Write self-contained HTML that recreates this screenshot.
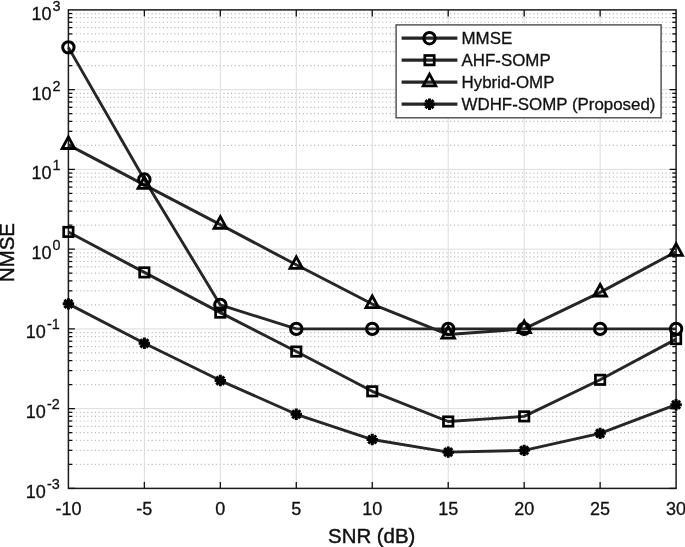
<!DOCTYPE html><html><head><meta charset="utf-8"><style>html,body{margin:0;padding:0;background:#fff}body{width:685px;height:547px;overflow:hidden}</style></head><body><svg width="685" height="547" viewBox="0 0 685 547" style="display:block;font-family:'Liberation Sans',sans-serif;will-change:transform;opacity:0.999">
<rect width="685" height="547" fill="#fff"/>
<line x1="68.4" x2="676.1" y1="464.39" y2="464.39" stroke="#bcbcbc" stroke-width="1.15" stroke-dasharray="1.15 2.63"/>
<line x1="68.4" x2="676.1" y1="450.35" y2="450.35" stroke="#bcbcbc" stroke-width="1.15" stroke-dasharray="1.15 2.63"/>
<line x1="68.4" x2="676.1" y1="440.39" y2="440.39" stroke="#bcbcbc" stroke-width="1.15" stroke-dasharray="1.15 2.63"/>
<line x1="68.4" x2="676.1" y1="432.66" y2="432.66" stroke="#bcbcbc" stroke-width="1.15" stroke-dasharray="1.15 2.63"/>
<line x1="68.4" x2="676.1" y1="426.34" y2="426.34" stroke="#bcbcbc" stroke-width="1.15" stroke-dasharray="1.15 2.63"/>
<line x1="68.4" x2="676.1" y1="421.00" y2="421.00" stroke="#bcbcbc" stroke-width="1.15" stroke-dasharray="1.15 2.63"/>
<line x1="68.4" x2="676.1" y1="416.38" y2="416.38" stroke="#bcbcbc" stroke-width="1.15" stroke-dasharray="1.15 2.63"/>
<line x1="68.4" x2="676.1" y1="412.30" y2="412.30" stroke="#bcbcbc" stroke-width="1.15" stroke-dasharray="1.15 2.63"/>
<line x1="68.4" x2="676.1" y1="384.64" y2="384.64" stroke="#bcbcbc" stroke-width="1.15" stroke-dasharray="1.15 2.63"/>
<line x1="68.4" x2="676.1" y1="370.60" y2="370.60" stroke="#bcbcbc" stroke-width="1.15" stroke-dasharray="1.15 2.63"/>
<line x1="68.4" x2="676.1" y1="360.64" y2="360.64" stroke="#bcbcbc" stroke-width="1.15" stroke-dasharray="1.15 2.63"/>
<line x1="68.4" x2="676.1" y1="352.91" y2="352.91" stroke="#bcbcbc" stroke-width="1.15" stroke-dasharray="1.15 2.63"/>
<line x1="68.4" x2="676.1" y1="346.59" y2="346.59" stroke="#bcbcbc" stroke-width="1.15" stroke-dasharray="1.15 2.63"/>
<line x1="68.4" x2="676.1" y1="341.25" y2="341.25" stroke="#bcbcbc" stroke-width="1.15" stroke-dasharray="1.15 2.63"/>
<line x1="68.4" x2="676.1" y1="336.63" y2="336.63" stroke="#bcbcbc" stroke-width="1.15" stroke-dasharray="1.15 2.63"/>
<line x1="68.4" x2="676.1" y1="332.55" y2="332.55" stroke="#bcbcbc" stroke-width="1.15" stroke-dasharray="1.15 2.63"/>
<line x1="68.4" x2="676.1" y1="304.89" y2="304.89" stroke="#bcbcbc" stroke-width="1.15" stroke-dasharray="1.15 2.63"/>
<line x1="68.4" x2="676.1" y1="290.85" y2="290.85" stroke="#bcbcbc" stroke-width="1.15" stroke-dasharray="1.15 2.63"/>
<line x1="68.4" x2="676.1" y1="280.89" y2="280.89" stroke="#bcbcbc" stroke-width="1.15" stroke-dasharray="1.15 2.63"/>
<line x1="68.4" x2="676.1" y1="273.16" y2="273.16" stroke="#bcbcbc" stroke-width="1.15" stroke-dasharray="1.15 2.63"/>
<line x1="68.4" x2="676.1" y1="266.84" y2="266.84" stroke="#bcbcbc" stroke-width="1.15" stroke-dasharray="1.15 2.63"/>
<line x1="68.4" x2="676.1" y1="261.50" y2="261.50" stroke="#bcbcbc" stroke-width="1.15" stroke-dasharray="1.15 2.63"/>
<line x1="68.4" x2="676.1" y1="256.88" y2="256.88" stroke="#bcbcbc" stroke-width="1.15" stroke-dasharray="1.15 2.63"/>
<line x1="68.4" x2="676.1" y1="252.80" y2="252.80" stroke="#bcbcbc" stroke-width="1.15" stroke-dasharray="1.15 2.63"/>
<line x1="68.4" x2="676.1" y1="225.14" y2="225.14" stroke="#bcbcbc" stroke-width="1.15" stroke-dasharray="1.15 2.63"/>
<line x1="68.4" x2="676.1" y1="211.10" y2="211.10" stroke="#bcbcbc" stroke-width="1.15" stroke-dasharray="1.15 2.63"/>
<line x1="68.4" x2="676.1" y1="201.14" y2="201.14" stroke="#bcbcbc" stroke-width="1.15" stroke-dasharray="1.15 2.63"/>
<line x1="68.4" x2="676.1" y1="193.41" y2="193.41" stroke="#bcbcbc" stroke-width="1.15" stroke-dasharray="1.15 2.63"/>
<line x1="68.4" x2="676.1" y1="187.09" y2="187.09" stroke="#bcbcbc" stroke-width="1.15" stroke-dasharray="1.15 2.63"/>
<line x1="68.4" x2="676.1" y1="181.75" y2="181.75" stroke="#bcbcbc" stroke-width="1.15" stroke-dasharray="1.15 2.63"/>
<line x1="68.4" x2="676.1" y1="177.13" y2="177.13" stroke="#bcbcbc" stroke-width="1.15" stroke-dasharray="1.15 2.63"/>
<line x1="68.4" x2="676.1" y1="173.05" y2="173.05" stroke="#bcbcbc" stroke-width="1.15" stroke-dasharray="1.15 2.63"/>
<line x1="68.4" x2="676.1" y1="145.39" y2="145.39" stroke="#bcbcbc" stroke-width="1.15" stroke-dasharray="1.15 2.63"/>
<line x1="68.4" x2="676.1" y1="131.35" y2="131.35" stroke="#bcbcbc" stroke-width="1.15" stroke-dasharray="1.15 2.63"/>
<line x1="68.4" x2="676.1" y1="121.39" y2="121.39" stroke="#bcbcbc" stroke-width="1.15" stroke-dasharray="1.15 2.63"/>
<line x1="68.4" x2="676.1" y1="113.66" y2="113.66" stroke="#bcbcbc" stroke-width="1.15" stroke-dasharray="1.15 2.63"/>
<line x1="68.4" x2="676.1" y1="107.34" y2="107.34" stroke="#bcbcbc" stroke-width="1.15" stroke-dasharray="1.15 2.63"/>
<line x1="68.4" x2="676.1" y1="102.00" y2="102.00" stroke="#bcbcbc" stroke-width="1.15" stroke-dasharray="1.15 2.63"/>
<line x1="68.4" x2="676.1" y1="97.38" y2="97.38" stroke="#bcbcbc" stroke-width="1.15" stroke-dasharray="1.15 2.63"/>
<line x1="68.4" x2="676.1" y1="93.30" y2="93.30" stroke="#bcbcbc" stroke-width="1.15" stroke-dasharray="1.15 2.63"/>
<line x1="68.4" x2="676.1" y1="65.64" y2="65.64" stroke="#bcbcbc" stroke-width="1.15" stroke-dasharray="1.15 2.63"/>
<line x1="68.4" x2="676.1" y1="51.60" y2="51.60" stroke="#bcbcbc" stroke-width="1.15" stroke-dasharray="1.15 2.63"/>
<line x1="68.4" x2="676.1" y1="41.64" y2="41.64" stroke="#bcbcbc" stroke-width="1.15" stroke-dasharray="1.15 2.63"/>
<line x1="68.4" x2="676.1" y1="33.91" y2="33.91" stroke="#bcbcbc" stroke-width="1.15" stroke-dasharray="1.15 2.63"/>
<line x1="68.4" x2="676.1" y1="27.59" y2="27.59" stroke="#bcbcbc" stroke-width="1.15" stroke-dasharray="1.15 2.63"/>
<line x1="68.4" x2="676.1" y1="22.25" y2="22.25" stroke="#bcbcbc" stroke-width="1.15" stroke-dasharray="1.15 2.63"/>
<line x1="68.4" x2="676.1" y1="17.63" y2="17.63" stroke="#bcbcbc" stroke-width="1.15" stroke-dasharray="1.15 2.63"/>
<line x1="68.4" x2="676.1" y1="13.55" y2="13.55" stroke="#bcbcbc" stroke-width="1.15" stroke-dasharray="1.15 2.63"/>
<line x1="144.36" x2="144.36" y1="9.9" y2="488.4" stroke="#dcdcdc" stroke-width="1"/>
<line x1="220.33" x2="220.33" y1="9.9" y2="488.4" stroke="#dcdcdc" stroke-width="1"/>
<line x1="296.29" x2="296.29" y1="9.9" y2="488.4" stroke="#dcdcdc" stroke-width="1"/>
<line x1="372.25" x2="372.25" y1="9.9" y2="488.4" stroke="#dcdcdc" stroke-width="1"/>
<line x1="448.21" x2="448.21" y1="9.9" y2="488.4" stroke="#dcdcdc" stroke-width="1"/>
<line x1="524.18" x2="524.18" y1="9.9" y2="488.4" stroke="#dcdcdc" stroke-width="1"/>
<line x1="600.14" x2="600.14" y1="9.9" y2="488.4" stroke="#dcdcdc" stroke-width="1"/>
<line x1="68.4" x2="676.1" y1="408.65" y2="408.65" stroke="#dcdcdc" stroke-width="1"/>
<line x1="68.4" x2="676.1" y1="328.90" y2="328.90" stroke="#dcdcdc" stroke-width="1"/>
<line x1="68.4" x2="676.1" y1="249.15" y2="249.15" stroke="#dcdcdc" stroke-width="1"/>
<line x1="68.4" x2="676.1" y1="169.40" y2="169.40" stroke="#dcdcdc" stroke-width="1"/>
<line x1="68.4" x2="676.1" y1="89.65" y2="89.65" stroke="#dcdcdc" stroke-width="1"/>
<rect x="68.4" y="9.9" width="607.7" height="478.5" fill="none" stroke="#1c1c1c" stroke-width="1.5"/>
<line x1="144.36" x2="144.36" y1="488.4" y2="481.9" stroke="#111" stroke-width="1.3"/>
<line x1="144.36" x2="144.36" y1="9.9" y2="16.4" stroke="#111" stroke-width="1.3"/>
<line x1="220.33" x2="220.33" y1="488.4" y2="481.9" stroke="#111" stroke-width="1.3"/>
<line x1="220.33" x2="220.33" y1="9.9" y2="16.4" stroke="#111" stroke-width="1.3"/>
<line x1="296.29" x2="296.29" y1="488.4" y2="481.9" stroke="#111" stroke-width="1.3"/>
<line x1="296.29" x2="296.29" y1="9.9" y2="16.4" stroke="#111" stroke-width="1.3"/>
<line x1="372.25" x2="372.25" y1="488.4" y2="481.9" stroke="#111" stroke-width="1.3"/>
<line x1="372.25" x2="372.25" y1="9.9" y2="16.4" stroke="#111" stroke-width="1.3"/>
<line x1="448.21" x2="448.21" y1="488.4" y2="481.9" stroke="#111" stroke-width="1.3"/>
<line x1="448.21" x2="448.21" y1="9.9" y2="16.4" stroke="#111" stroke-width="1.3"/>
<line x1="524.18" x2="524.18" y1="488.4" y2="481.9" stroke="#111" stroke-width="1.3"/>
<line x1="524.18" x2="524.18" y1="9.9" y2="16.4" stroke="#111" stroke-width="1.3"/>
<line x1="600.14" x2="600.14" y1="488.4" y2="481.9" stroke="#111" stroke-width="1.3"/>
<line x1="600.14" x2="600.14" y1="9.9" y2="16.4" stroke="#111" stroke-width="1.3"/>
<line x1="68.4" x2="74.9" y1="488.40" y2="488.40" stroke="#111" stroke-width="1.3"/>
<line x1="676.1" x2="669.6" y1="488.40" y2="488.40" stroke="#111" stroke-width="1.3"/>
<line x1="68.4" x2="72.2" y1="464.39" y2="464.39" stroke="#111" stroke-width="1.3"/>
<line x1="676.1" x2="672.3000000000001" y1="464.39" y2="464.39" stroke="#111" stroke-width="1.3"/>
<line x1="68.4" x2="72.2" y1="450.35" y2="450.35" stroke="#111" stroke-width="1.3"/>
<line x1="676.1" x2="672.3000000000001" y1="450.35" y2="450.35" stroke="#111" stroke-width="1.3"/>
<line x1="68.4" x2="72.2" y1="440.39" y2="440.39" stroke="#111" stroke-width="1.3"/>
<line x1="676.1" x2="672.3000000000001" y1="440.39" y2="440.39" stroke="#111" stroke-width="1.3"/>
<line x1="68.4" x2="72.2" y1="432.66" y2="432.66" stroke="#111" stroke-width="1.3"/>
<line x1="676.1" x2="672.3000000000001" y1="432.66" y2="432.66" stroke="#111" stroke-width="1.3"/>
<line x1="68.4" x2="72.2" y1="426.34" y2="426.34" stroke="#111" stroke-width="1.3"/>
<line x1="676.1" x2="672.3000000000001" y1="426.34" y2="426.34" stroke="#111" stroke-width="1.3"/>
<line x1="68.4" x2="72.2" y1="421.00" y2="421.00" stroke="#111" stroke-width="1.3"/>
<line x1="676.1" x2="672.3000000000001" y1="421.00" y2="421.00" stroke="#111" stroke-width="1.3"/>
<line x1="68.4" x2="72.2" y1="416.38" y2="416.38" stroke="#111" stroke-width="1.3"/>
<line x1="676.1" x2="672.3000000000001" y1="416.38" y2="416.38" stroke="#111" stroke-width="1.3"/>
<line x1="68.4" x2="72.2" y1="412.30" y2="412.30" stroke="#111" stroke-width="1.3"/>
<line x1="676.1" x2="672.3000000000001" y1="412.30" y2="412.30" stroke="#111" stroke-width="1.3"/>
<line x1="68.4" x2="74.9" y1="408.65" y2="408.65" stroke="#111" stroke-width="1.3"/>
<line x1="676.1" x2="669.6" y1="408.65" y2="408.65" stroke="#111" stroke-width="1.3"/>
<line x1="68.4" x2="72.2" y1="384.64" y2="384.64" stroke="#111" stroke-width="1.3"/>
<line x1="676.1" x2="672.3000000000001" y1="384.64" y2="384.64" stroke="#111" stroke-width="1.3"/>
<line x1="68.4" x2="72.2" y1="370.60" y2="370.60" stroke="#111" stroke-width="1.3"/>
<line x1="676.1" x2="672.3000000000001" y1="370.60" y2="370.60" stroke="#111" stroke-width="1.3"/>
<line x1="68.4" x2="72.2" y1="360.64" y2="360.64" stroke="#111" stroke-width="1.3"/>
<line x1="676.1" x2="672.3000000000001" y1="360.64" y2="360.64" stroke="#111" stroke-width="1.3"/>
<line x1="68.4" x2="72.2" y1="352.91" y2="352.91" stroke="#111" stroke-width="1.3"/>
<line x1="676.1" x2="672.3000000000001" y1="352.91" y2="352.91" stroke="#111" stroke-width="1.3"/>
<line x1="68.4" x2="72.2" y1="346.59" y2="346.59" stroke="#111" stroke-width="1.3"/>
<line x1="676.1" x2="672.3000000000001" y1="346.59" y2="346.59" stroke="#111" stroke-width="1.3"/>
<line x1="68.4" x2="72.2" y1="341.25" y2="341.25" stroke="#111" stroke-width="1.3"/>
<line x1="676.1" x2="672.3000000000001" y1="341.25" y2="341.25" stroke="#111" stroke-width="1.3"/>
<line x1="68.4" x2="72.2" y1="336.63" y2="336.63" stroke="#111" stroke-width="1.3"/>
<line x1="676.1" x2="672.3000000000001" y1="336.63" y2="336.63" stroke="#111" stroke-width="1.3"/>
<line x1="68.4" x2="72.2" y1="332.55" y2="332.55" stroke="#111" stroke-width="1.3"/>
<line x1="676.1" x2="672.3000000000001" y1="332.55" y2="332.55" stroke="#111" stroke-width="1.3"/>
<line x1="68.4" x2="74.9" y1="328.90" y2="328.90" stroke="#111" stroke-width="1.3"/>
<line x1="676.1" x2="669.6" y1="328.90" y2="328.90" stroke="#111" stroke-width="1.3"/>
<line x1="68.4" x2="72.2" y1="304.89" y2="304.89" stroke="#111" stroke-width="1.3"/>
<line x1="676.1" x2="672.3000000000001" y1="304.89" y2="304.89" stroke="#111" stroke-width="1.3"/>
<line x1="68.4" x2="72.2" y1="290.85" y2="290.85" stroke="#111" stroke-width="1.3"/>
<line x1="676.1" x2="672.3000000000001" y1="290.85" y2="290.85" stroke="#111" stroke-width="1.3"/>
<line x1="68.4" x2="72.2" y1="280.89" y2="280.89" stroke="#111" stroke-width="1.3"/>
<line x1="676.1" x2="672.3000000000001" y1="280.89" y2="280.89" stroke="#111" stroke-width="1.3"/>
<line x1="68.4" x2="72.2" y1="273.16" y2="273.16" stroke="#111" stroke-width="1.3"/>
<line x1="676.1" x2="672.3000000000001" y1="273.16" y2="273.16" stroke="#111" stroke-width="1.3"/>
<line x1="68.4" x2="72.2" y1="266.84" y2="266.84" stroke="#111" stroke-width="1.3"/>
<line x1="676.1" x2="672.3000000000001" y1="266.84" y2="266.84" stroke="#111" stroke-width="1.3"/>
<line x1="68.4" x2="72.2" y1="261.50" y2="261.50" stroke="#111" stroke-width="1.3"/>
<line x1="676.1" x2="672.3000000000001" y1="261.50" y2="261.50" stroke="#111" stroke-width="1.3"/>
<line x1="68.4" x2="72.2" y1="256.88" y2="256.88" stroke="#111" stroke-width="1.3"/>
<line x1="676.1" x2="672.3000000000001" y1="256.88" y2="256.88" stroke="#111" stroke-width="1.3"/>
<line x1="68.4" x2="72.2" y1="252.80" y2="252.80" stroke="#111" stroke-width="1.3"/>
<line x1="676.1" x2="672.3000000000001" y1="252.80" y2="252.80" stroke="#111" stroke-width="1.3"/>
<line x1="68.4" x2="74.9" y1="249.15" y2="249.15" stroke="#111" stroke-width="1.3"/>
<line x1="676.1" x2="669.6" y1="249.15" y2="249.15" stroke="#111" stroke-width="1.3"/>
<line x1="68.4" x2="72.2" y1="225.14" y2="225.14" stroke="#111" stroke-width="1.3"/>
<line x1="676.1" x2="672.3000000000001" y1="225.14" y2="225.14" stroke="#111" stroke-width="1.3"/>
<line x1="68.4" x2="72.2" y1="211.10" y2="211.10" stroke="#111" stroke-width="1.3"/>
<line x1="676.1" x2="672.3000000000001" y1="211.10" y2="211.10" stroke="#111" stroke-width="1.3"/>
<line x1="68.4" x2="72.2" y1="201.14" y2="201.14" stroke="#111" stroke-width="1.3"/>
<line x1="676.1" x2="672.3000000000001" y1="201.14" y2="201.14" stroke="#111" stroke-width="1.3"/>
<line x1="68.4" x2="72.2" y1="193.41" y2="193.41" stroke="#111" stroke-width="1.3"/>
<line x1="676.1" x2="672.3000000000001" y1="193.41" y2="193.41" stroke="#111" stroke-width="1.3"/>
<line x1="68.4" x2="72.2" y1="187.09" y2="187.09" stroke="#111" stroke-width="1.3"/>
<line x1="676.1" x2="672.3000000000001" y1="187.09" y2="187.09" stroke="#111" stroke-width="1.3"/>
<line x1="68.4" x2="72.2" y1="181.75" y2="181.75" stroke="#111" stroke-width="1.3"/>
<line x1="676.1" x2="672.3000000000001" y1="181.75" y2="181.75" stroke="#111" stroke-width="1.3"/>
<line x1="68.4" x2="72.2" y1="177.13" y2="177.13" stroke="#111" stroke-width="1.3"/>
<line x1="676.1" x2="672.3000000000001" y1="177.13" y2="177.13" stroke="#111" stroke-width="1.3"/>
<line x1="68.4" x2="72.2" y1="173.05" y2="173.05" stroke="#111" stroke-width="1.3"/>
<line x1="676.1" x2="672.3000000000001" y1="173.05" y2="173.05" stroke="#111" stroke-width="1.3"/>
<line x1="68.4" x2="74.9" y1="169.40" y2="169.40" stroke="#111" stroke-width="1.3"/>
<line x1="676.1" x2="669.6" y1="169.40" y2="169.40" stroke="#111" stroke-width="1.3"/>
<line x1="68.4" x2="72.2" y1="145.39" y2="145.39" stroke="#111" stroke-width="1.3"/>
<line x1="676.1" x2="672.3000000000001" y1="145.39" y2="145.39" stroke="#111" stroke-width="1.3"/>
<line x1="68.4" x2="72.2" y1="131.35" y2="131.35" stroke="#111" stroke-width="1.3"/>
<line x1="676.1" x2="672.3000000000001" y1="131.35" y2="131.35" stroke="#111" stroke-width="1.3"/>
<line x1="68.4" x2="72.2" y1="121.39" y2="121.39" stroke="#111" stroke-width="1.3"/>
<line x1="676.1" x2="672.3000000000001" y1="121.39" y2="121.39" stroke="#111" stroke-width="1.3"/>
<line x1="68.4" x2="72.2" y1="113.66" y2="113.66" stroke="#111" stroke-width="1.3"/>
<line x1="676.1" x2="672.3000000000001" y1="113.66" y2="113.66" stroke="#111" stroke-width="1.3"/>
<line x1="68.4" x2="72.2" y1="107.34" y2="107.34" stroke="#111" stroke-width="1.3"/>
<line x1="676.1" x2="672.3000000000001" y1="107.34" y2="107.34" stroke="#111" stroke-width="1.3"/>
<line x1="68.4" x2="72.2" y1="102.00" y2="102.00" stroke="#111" stroke-width="1.3"/>
<line x1="676.1" x2="672.3000000000001" y1="102.00" y2="102.00" stroke="#111" stroke-width="1.3"/>
<line x1="68.4" x2="72.2" y1="97.38" y2="97.38" stroke="#111" stroke-width="1.3"/>
<line x1="676.1" x2="672.3000000000001" y1="97.38" y2="97.38" stroke="#111" stroke-width="1.3"/>
<line x1="68.4" x2="72.2" y1="93.30" y2="93.30" stroke="#111" stroke-width="1.3"/>
<line x1="676.1" x2="672.3000000000001" y1="93.30" y2="93.30" stroke="#111" stroke-width="1.3"/>
<line x1="68.4" x2="74.9" y1="89.65" y2="89.65" stroke="#111" stroke-width="1.3"/>
<line x1="676.1" x2="669.6" y1="89.65" y2="89.65" stroke="#111" stroke-width="1.3"/>
<line x1="68.4" x2="72.2" y1="65.64" y2="65.64" stroke="#111" stroke-width="1.3"/>
<line x1="676.1" x2="672.3000000000001" y1="65.64" y2="65.64" stroke="#111" stroke-width="1.3"/>
<line x1="68.4" x2="72.2" y1="51.60" y2="51.60" stroke="#111" stroke-width="1.3"/>
<line x1="676.1" x2="672.3000000000001" y1="51.60" y2="51.60" stroke="#111" stroke-width="1.3"/>
<line x1="68.4" x2="72.2" y1="41.64" y2="41.64" stroke="#111" stroke-width="1.3"/>
<line x1="676.1" x2="672.3000000000001" y1="41.64" y2="41.64" stroke="#111" stroke-width="1.3"/>
<line x1="68.4" x2="72.2" y1="33.91" y2="33.91" stroke="#111" stroke-width="1.3"/>
<line x1="676.1" x2="672.3000000000001" y1="33.91" y2="33.91" stroke="#111" stroke-width="1.3"/>
<line x1="68.4" x2="72.2" y1="27.59" y2="27.59" stroke="#111" stroke-width="1.3"/>
<line x1="676.1" x2="672.3000000000001" y1="27.59" y2="27.59" stroke="#111" stroke-width="1.3"/>
<line x1="68.4" x2="72.2" y1="22.25" y2="22.25" stroke="#111" stroke-width="1.3"/>
<line x1="676.1" x2="672.3000000000001" y1="22.25" y2="22.25" stroke="#111" stroke-width="1.3"/>
<line x1="68.4" x2="72.2" y1="17.63" y2="17.63" stroke="#111" stroke-width="1.3"/>
<line x1="676.1" x2="672.3000000000001" y1="17.63" y2="17.63" stroke="#111" stroke-width="1.3"/>
<line x1="68.4" x2="72.2" y1="13.55" y2="13.55" stroke="#111" stroke-width="1.3"/>
<line x1="676.1" x2="672.3000000000001" y1="13.55" y2="13.55" stroke="#111" stroke-width="1.3"/>
<text x="68.40" y="514.5" font-size="18" text-anchor="middle" fill="#111" stroke="#111" stroke-width="0.3">-10</text>
<text x="144.36" y="514.5" font-size="18" text-anchor="middle" fill="#111" stroke="#111" stroke-width="0.3">-5</text>
<text x="220.33" y="514.5" font-size="18" text-anchor="middle" fill="#111" stroke="#111" stroke-width="0.3">0</text>
<text x="296.29" y="514.5" font-size="18" text-anchor="middle" fill="#111" stroke="#111" stroke-width="0.3">5</text>
<text x="372.25" y="514.5" font-size="18" text-anchor="middle" fill="#111" stroke="#111" stroke-width="0.3">10</text>
<text x="448.21" y="514.5" font-size="18" text-anchor="middle" fill="#111" stroke="#111" stroke-width="0.3">15</text>
<text x="524.18" y="514.5" font-size="18" text-anchor="middle" fill="#111" stroke="#111" stroke-width="0.3">20</text>
<text x="600.14" y="514.5" font-size="18" text-anchor="middle" fill="#111" stroke="#111" stroke-width="0.3">25</text>
<text x="676.10" y="514.5" font-size="18" text-anchor="middle" fill="#111" stroke="#111" stroke-width="0.3">30</text>
<text x="59.7" y="498.00" font-size="18" text-anchor="end" fill="#111" stroke="#111" stroke-width="0.3">10<tspan font-size="14.4" dy="-9.3" dx="1">-3</tspan></text>
<text x="59.7" y="418.00" font-size="18" text-anchor="end" fill="#111" stroke="#111" stroke-width="0.3">10<tspan font-size="14.4" dy="-9.3" dx="1">-2</tspan></text>
<text x="59.7" y="338.00" font-size="18" text-anchor="end" fill="#111" stroke="#111" stroke-width="0.3">10<tspan font-size="14.4" dy="-9.3" dx="1">-1</tspan></text>
<text x="60.5" y="259.00" font-size="18" text-anchor="end" fill="#111" stroke="#111" stroke-width="0.3">10<tspan font-size="14.4" dy="-9.3" dx="1">0</tspan></text>
<text x="60.5" y="179.00" font-size="18" text-anchor="end" fill="#111" stroke="#111" stroke-width="0.3">10<tspan font-size="14.4" dy="-9.3" dx="1">1</tspan></text>
<text x="60.5" y="100.00" font-size="18" text-anchor="end" fill="#111" stroke="#111" stroke-width="0.3">10<tspan font-size="14.4" dy="-9.3" dx="1">2</tspan></text>
<text x="60.5" y="20.00" font-size="18" text-anchor="end" fill="#111" stroke="#111" stroke-width="0.3">10<tspan font-size="14.4" dy="-9.3" dx="1">3</tspan></text>
<text x="371.7" y="542.5" font-size="20.4" text-anchor="middle" fill="#111" stroke="#111" stroke-width="0.45">SNR (dB)</text>
<text transform="translate(14.3,252.5) rotate(-90)" font-size="20.4" text-anchor="middle" fill="#111" stroke="#111" stroke-width="0.45">NMSE</text>
<polyline points="68.40,47.37 144.36,179.50 220.33,304.89 296.29,328.90 372.25,328.90 448.21,328.90 524.18,328.90 600.14,328.90 676.10,328.90" fill="none" stroke="#262626" stroke-width="2.9" stroke-linejoin="round"/>
<polyline points="68.40,231.91 144.36,272.40 220.33,312.62 296.29,351.55 372.25,391.31 448.21,421.50 524.18,416.38 600.14,379.80 676.10,339.10" fill="none" stroke="#262626" stroke-width="2.9" stroke-linejoin="round"/>
<polyline points="68.40,144.88 144.36,184.86 220.33,224.63 296.29,264.82 372.25,304.04 448.21,334.53 524.18,328.90 600.14,292.38 676.10,251.70" fill="none" stroke="#262626" stroke-width="2.9" stroke-linejoin="round"/>
<polyline points="68.40,303.87 144.36,343.29 220.33,380.56 296.29,414.28 372.25,439.53 448.21,452.13 524.18,450.35 600.14,433.36 676.10,404.72" fill="none" stroke="#262626" stroke-width="2.9" stroke-linejoin="round"/>
<circle cx="68.40" cy="47.37" r="5.7" fill="none" stroke="#000" stroke-width="3.0"/>
<circle cx="144.36" cy="179.50" r="5.7" fill="none" stroke="#000" stroke-width="3.0"/>
<circle cx="220.33" cy="304.89" r="5.7" fill="none" stroke="#000" stroke-width="3.0"/>
<circle cx="296.29" cy="328.90" r="5.7" fill="none" stroke="#000" stroke-width="3.0"/>
<circle cx="372.25" cy="328.90" r="5.7" fill="none" stroke="#000" stroke-width="3.0"/>
<circle cx="448.21" cy="328.90" r="5.7" fill="none" stroke="#000" stroke-width="3.0"/>
<circle cx="524.18" cy="328.90" r="5.7" fill="none" stroke="#000" stroke-width="3.0"/>
<circle cx="600.14" cy="328.90" r="5.7" fill="none" stroke="#000" stroke-width="3.0"/>
<circle cx="676.10" cy="328.90" r="5.7" fill="none" stroke="#000" stroke-width="3.0"/>
<rect x="63.70" y="227.21" width="9.4" height="9.4" fill="none" stroke="#000" stroke-width="2.7"/>
<rect x="139.66" y="267.70" width="9.4" height="9.4" fill="none" stroke="#000" stroke-width="2.7"/>
<rect x="215.63" y="307.92" width="9.4" height="9.4" fill="none" stroke="#000" stroke-width="2.7"/>
<rect x="291.59" y="346.85" width="9.4" height="9.4" fill="none" stroke="#000" stroke-width="2.7"/>
<rect x="367.55" y="386.61" width="9.4" height="9.4" fill="none" stroke="#000" stroke-width="2.7"/>
<rect x="443.51" y="416.80" width="9.4" height="9.4" fill="none" stroke="#000" stroke-width="2.7"/>
<rect x="519.48" y="411.68" width="9.4" height="9.4" fill="none" stroke="#000" stroke-width="2.7"/>
<rect x="595.44" y="375.10" width="9.4" height="9.4" fill="none" stroke="#000" stroke-width="2.7"/>
<rect x="671.40" y="334.40" width="9.4" height="9.4" fill="none" stroke="#000" stroke-width="2.7"/>
<path d="M68.40 136.88 L74.70 148.48 L62.10 148.48 Z" fill="none" stroke="#000" stroke-width="2.8" stroke-linejoin="miter"/>
<path d="M144.36 176.86 L150.66 188.46 L138.06 188.46 Z" fill="none" stroke="#000" stroke-width="2.8" stroke-linejoin="miter"/>
<path d="M220.33 216.63 L226.63 228.23 L214.03 228.23 Z" fill="none" stroke="#000" stroke-width="2.8" stroke-linejoin="miter"/>
<path d="M296.29 256.82 L302.59 268.42 L289.99 268.42 Z" fill="none" stroke="#000" stroke-width="2.8" stroke-linejoin="miter"/>
<path d="M372.25 296.04 L378.55 307.64 L365.95 307.64 Z" fill="none" stroke="#000" stroke-width="2.8" stroke-linejoin="miter"/>
<path d="M448.21 326.53 L454.51 338.13 L441.91 338.13 Z" fill="none" stroke="#000" stroke-width="2.8" stroke-linejoin="miter"/>
<path d="M524.18 320.90 L530.48 332.50 L517.88 332.50 Z" fill="none" stroke="#000" stroke-width="2.8" stroke-linejoin="miter"/>
<path d="M600.14 284.38 L606.44 295.98 L593.84 295.98 Z" fill="none" stroke="#000" stroke-width="2.8" stroke-linejoin="miter"/>
<path d="M676.10 243.70 L682.40 255.30 L669.80 255.30 Z" fill="none" stroke="#000" stroke-width="2.8" stroke-linejoin="miter"/>
<path d="M62.70 303.87L74.10 303.87M64.37 299.84L72.43 307.90M68.40 298.17L68.40 309.57M72.43 299.84L64.37 307.90" fill="none" stroke="#000" stroke-width="3"/>
<path d="M138.66 343.29L150.06 343.29M140.33 339.26L148.39 347.32M144.36 337.59L144.36 348.99M148.39 339.26L140.33 347.32" fill="none" stroke="#000" stroke-width="3"/>
<path d="M214.63 380.56L226.03 380.56M216.29 376.53L224.36 384.59M220.33 374.86L220.33 386.26M224.36 376.53L216.29 384.59" fill="none" stroke="#000" stroke-width="3"/>
<path d="M290.59 414.28L301.99 414.28M292.26 410.25L300.32 418.31M296.29 408.58L296.29 419.98M300.32 410.25L292.26 418.31" fill="none" stroke="#000" stroke-width="3"/>
<path d="M366.55 439.53L377.95 439.53M368.22 435.50L376.28 443.56M372.25 433.83L372.25 445.23M376.28 435.50L368.22 443.56" fill="none" stroke="#000" stroke-width="3"/>
<path d="M442.51 452.13L453.91 452.13M444.18 448.10L452.24 456.16M448.21 446.43L448.21 457.83M452.24 448.10L444.18 456.16" fill="none" stroke="#000" stroke-width="3"/>
<path d="M518.48 450.35L529.88 450.35M520.14 446.32L528.21 454.38M524.18 444.65L524.18 456.05M528.21 446.32L520.14 454.38" fill="none" stroke="#000" stroke-width="3"/>
<path d="M594.44 433.36L605.84 433.36M596.11 429.33L604.17 437.39M600.14 427.66L600.14 439.06M604.17 429.33L596.11 437.39" fill="none" stroke="#000" stroke-width="3"/>
<path d="M670.40 404.72L681.80 404.72M672.07 400.69L680.13 408.76M676.10 399.02L676.10 410.42M680.13 400.69L672.07 408.76" fill="none" stroke="#000" stroke-width="3"/>
<rect x="396.1" y="24.9" width="265.0" height="92.9" fill="#fff" stroke="#4a4a4a" stroke-width="1.4"/>
<line x1="401.6" x2="457.4" y1="38.2" y2="38.2" stroke="#262626" stroke-width="3.2"/>
<circle cx="429.50" cy="38.20" r="5.7" fill="none" stroke="#000" stroke-width="3.0"/>
<text x="461.5" y="44.20" font-size="16.9" fill="#111" stroke="#111" stroke-width="0.3">MMSE</text>
<line x1="401.6" x2="457.4" y1="60.2" y2="60.2" stroke="#262626" stroke-width="3.2"/>
<rect x="424.80" y="55.50" width="9.4" height="9.4" fill="none" stroke="#000" stroke-width="2.7"/>
<text x="461.5" y="66.20" font-size="16.9" fill="#111" stroke="#111" stroke-width="0.3">AHF-SOMP</text>
<line x1="401.6" x2="457.4" y1="82.2" y2="82.2" stroke="#262626" stroke-width="3.2"/>
<path d="M429.50 74.20 L435.80 85.80 L423.20 85.80 Z" fill="none" stroke="#000" stroke-width="2.8" stroke-linejoin="miter"/>
<text x="461.5" y="88.20" font-size="16.9" fill="#111" stroke="#111" stroke-width="0.3">Hybrid-OMP</text>
<line x1="401.6" x2="457.4" y1="104.2" y2="104.2" stroke="#262626" stroke-width="3.2"/>
<path d="M423.80 104.20L435.20 104.20M425.47 100.17L433.53 108.23M429.50 98.50L429.50 109.90M433.53 100.17L425.47 108.23" fill="none" stroke="#000" stroke-width="3"/>
<text x="461.5" y="110.20" font-size="16.9" fill="#111" stroke="#111" stroke-width="0.3">WDHF-SOMP (Proposed)</text>
</svg></body></html>
